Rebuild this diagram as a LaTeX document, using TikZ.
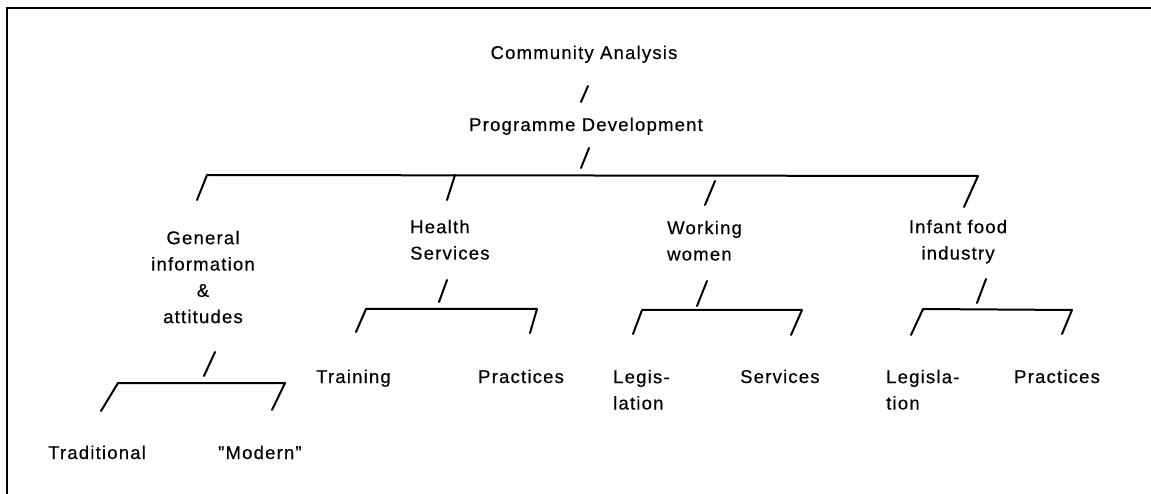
\documentclass[tikz,border=0pt]{standalone}
\usepackage{fontspec}
\setmainfont{Liberation Sans}[LetterSpace=6.5,FakeBold=0.4]
\newcommand{\firstline}{\rule{0pt}{14pt}}
\begin{document}
\begin{tikzpicture}[x=1pt,y=-1pt,
  lbl/.style={font=\fontsize{18.5}{26.3}\selectfont, inner sep=0pt, text=black},
  ln/.style={line width=2pt, line cap=round, line join=round, draw=black}]
\fill[white] (0,0) rectangle (1151,494);
\useasboundingbox (0,0) rectangle (1151,494);
% frame
\coordinate (fbl) at (7,494); \coordinate (ftl) at (7,8); \coordinate (ftr) at (1151,8);
\draw[line width=2pt] (fbl) -- (ftl) -- (ftr);
% labels
\node[lbl, anchor=base] (ca) at (584,59) {Community Analysis};
\node[lbl, anchor=base] (pd) at (586,131) {Programme Development};
\node[lbl, anchor=north, align=center] (gi) at (203,230) {\firstline General\\information\\\&\\attitudes};
\node[lbl, anchor=north west, align=left] (hs) at (410,219) {\firstline Health\\Services};
\node[lbl, anchor=north west, align=left] (ww) at (667,220) {\firstline Working\\women};
\node[lbl, anchor=north, align=center] (if) at (958,219) {\firstline Infant food\\industry};
\node[lbl, anchor=base west] (tr) at (316,383) {Training};
\node[lbl, anchor=base west] (hp) at (478,383) {Practices};
\node[lbl, anchor=north west, align=left] (wl) at (613,369) {\firstline Legis-\\lation};
\node[lbl, anchor=base west] (wsv) at (740,383) {Services};
\node[lbl, anchor=north west, align=left] (il) at (886,369) {\firstline Legisla-\\tion};
\node[lbl, anchor=base west] (ip) at (1014,383) {Practices};
\node[lbl, anchor=base west] (gt) at (48,459) {Traditional};
\node[lbl, anchor=base west] (gm) at (218,459) {''Modern''};
% slashes between top levels
\coordinate (s1a) at (588,86); \coordinate (s1b) at (581,102);
\coordinate (s2a) at (589,148); \coordinate (s2b) at (581,168);
\draw[ln] (s1a) -- (s1b);
\draw[ln] (s2a) -- (s2b);
% main bracket
\coordinate (mLd) at (197,200); \coordinate (mL) at (207,175);
\coordinate (mR) at (978,176); \coordinate (mRd) at (964,207);
\draw[ln] (mLd) -- (mL) -- (mR) -- (mRd);
\coordinate (b2a) at (455,175); \coordinate (b2b) at (447,200);
\coordinate (b3a) at (715,181); \coordinate (b3b) at (705,205);
\draw[ln] (b2a) -- (b2b);
\draw[ln] (b3a) -- (b3b);
% general information sub-bracket
\coordinate (gsa) at (215,352); \coordinate (gsb) at (204,376);
\draw[ln] (gsa) -- (gsb);
\coordinate (gLd) at (101,411); \coordinate (gL) at (118,383);
\coordinate (gR) at (285,383); \coordinate (gRd) at (272,410);
\draw[ln] (gLd) -- (gL) -- (gR) -- (gRd);
% health services sub-bracket
\coordinate (hsa) at (447,280); \coordinate (hsb) at (439,302);
\draw[ln] (hsa) -- (hsb);
\coordinate (hLd) at (356,332); \coordinate (hL) at (366,309);
\coordinate (hR) at (537,309); \coordinate (hRd) at (530,333);
\draw[ln] (hLd) -- (hL) -- (hR) -- (hRd);
% working women sub-bracket
\coordinate (wsa) at (707,281); \coordinate (wsb) at (697,306);
\draw[ln] (wsa) -- (wsb);
\coordinate (wLd) at (633,334); \coordinate (wL) at (642,310);
\coordinate (wR) at (802,310); \coordinate (wRd) at (791,335);
\draw[ln] (wLd) -- (wL) -- (wR) -- (wRd);
% infant food sub-bracket
\coordinate (isa) at (986,279); \coordinate (isb) at (977,303);
\draw[ln] (isa) -- (isb);
\coordinate (iLd) at (911,335); \coordinate (iL) at (923,309);
\coordinate (iR) at (1072,310); \coordinate (iRd) at (1062,334);
\draw[ln] (iLd) -- (iL) -- (iR) -- (iRd);
\end{tikzpicture}
\end{document}
